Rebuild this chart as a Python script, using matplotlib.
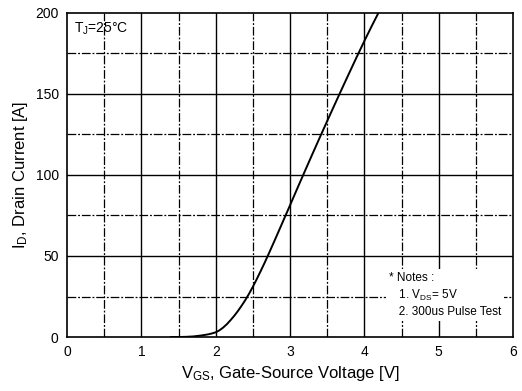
import matplotlib
matplotlib.use('Agg')
import numpy as np
import matplotlib.pyplot as plt

plt.rcParams['font.family'] = ['Liberation Sans', 'DejaVu Sans']
plt.rcParams['mathtext.fontset'] = 'custom'
plt.rcParams['mathtext.rm'] = 'Liberation Sans'

# transfer characteristic
vgs = [1.40, 1.50, 1.60, 1.70, 1.80, 1.85, 1.90, 1.95, 2.00, 2.05, 2.10,
       2.15, 2.20, 2.25, 2.30, 2.35, 2.40, 2.45, 2.50, 2.55, 2.60, 2.65,
       2.70, 2.80, 2.90, 3.00, 3.10, 3.20, 3.30, 3.40, 3.50, 3.60, 3.70,
       3.80, 3.90, 4.00, 4.10, 4.20]
i_d = [0.0, 0.0, 0.1, 0.35, 0.9, 1.25, 1.65, 2.2, 2.9, 4.1, 5.8,
       7.9, 10.4, 13.1, 16.1, 19.4, 22.9, 26.8, 31.0, 35.5, 40.2, 45.0,
       50.0, 60.3, 70.8, 81.3, 91.9, 102.4, 112.8, 123.1, 133.3, 143.4, 153.4,
       163.3, 173.1, 182.7, 192.0, 201.0]

x_major = [1, 2, 3, 4, 5]
x_minor = [0.5, 1.5, 2.5, 3.5, 4.5, 5.5]
y_major = [50, 100, 150]
y_minor = [25, 75, 125, 175]
x_ticks = [0, 1, 2, 3, 4, 5, 6]
y_ticks = [0, 50, 100, 150, 200]

fig = plt.figure(figsize=(5.22, 3.91), dpi=100)
ax = fig.add_axes([0.1284, 0.1381, 0.9828 - 0.1284, 0.9668 - 0.1381])

dashdot = (0, (7, 1.5, 1.5, 1.5))
for x in x_major:
    ax.axvline(x, color='black', lw=1.0, zorder=1)
for x in x_minor:
    ax.axvline(x, color='black', lw=0.9, ls=dashdot, zorder=1)
for y in y_major:
    ax.axhline(y, color='black', lw=1.0, zorder=1)
for y in y_minor:
    ax.axhline(y, color='black', lw=0.9, ls=dashdot, zorder=1)

ax.plot(vgs, i_d, color='black', lw=1.4, zorder=3, solid_joinstyle='round')

ax.set_xlim(0, 6)
ax.set_ylim(0, 200)
ax.set_xticks(x_ticks)
ax.set_yticks(y_ticks)
ax.tick_params(length=0, labelsize=10, pad=6)
for s in ax.spines.values():
    s.set_linewidth(1.2)
    s.set_zorder(4)

ax.set_xlabel(r'$\mathregular{V_{GS}}$, Gate-Source Voltage [V]', fontsize=12, labelpad=3)
ax.set_ylabel(r'$\mathregular{I_D}$, Drain Current [A]', fontsize=12, labelpad=4)

ax.text(0.1, 195, r'$\mathregular{T_J}$=25°C', fontsize=10, va='top', ha='left', zorder=5)

notes = '* Notes :\n   1. $\\mathregular{V_{DS}}$= 5V\n   2. 300us Pulse Test'
ax.text(4.33, 40, notes, fontsize=8.5, va='top', ha='left', linespacing=1.35, zorder=5,
        bbox=dict(facecolor='white', edgecolor='none', pad=2))

fig.savefig('out.png', dpi=100)
